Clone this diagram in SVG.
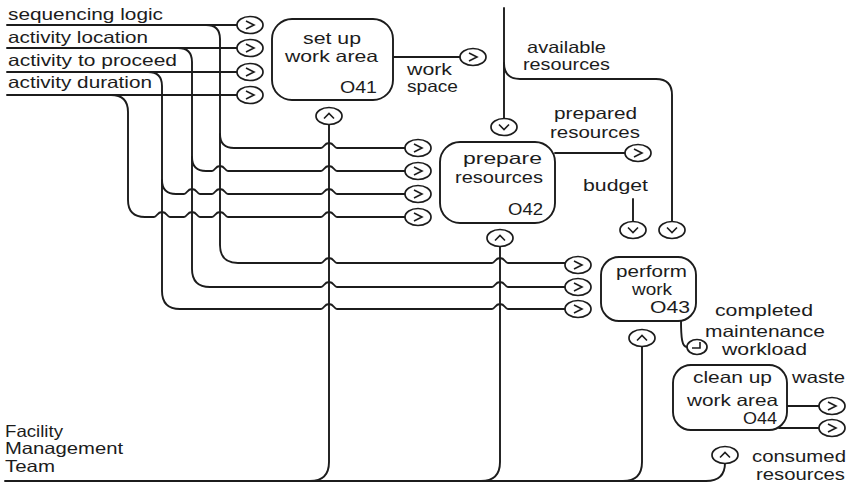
<svg xmlns="http://www.w3.org/2000/svg" xmlns:xlink="http://www.w3.org/1999/xlink" width="847" height="484" viewBox="0 0 847 484">
<style>
.ln{fill:none;stroke:#1c1c1c;stroke-width:1.9;stroke-linecap:round;stroke-linejoin:round}
.bx{fill:#fff;stroke:#1c1c1c;stroke-width:1.9}
.pt ellipse{fill:#fff;stroke:#1c1c1c;stroke-width:1.7}
.pt path{fill:none;stroke:#1c1c1c;stroke-width:1.6;stroke-linejoin:miter}
text{font-family:"Liberation Sans",Arial,sans-serif;font-size:16.5px;fill:#1c1c1c}
</style>
<defs>
<g id="pr" class="pt"><ellipse rx="13" ry="8.5"/><path d="M-4,-4 L4,0 L-4,4"/></g>
<g id="pu" class="pt"><ellipse rx="13" ry="8.5"/><path d="M-5,2.5 L0,-2.5 L5,2.5"/></g>
<g id="pd" class="pt"><ellipse rx="13" ry="8.5"/><path d="M-5,-2.5 L0,2.5 L5,-2.5"/></g>
<g id="pk" class="pt"><ellipse rx="10" ry="7.5"/><path d="M-5,1 H3 V-5"/></g>
</defs>
<rect width="847" height="484" fill="#fff"/>

<g id="connectors">
<!-- O41 inputs -->
<path class="ln" d="M7,25 H237 M7,48 H237 M7,72 H237 M7,95 H237"/>
<!-- sequencing logic branches -->
<path class="ln" d="M206,25 Q220,25 220,39 V245 Q220,263 238,263 H321 c3,0 3,-5 8,-5 c5,0 5,5 8,5 H492 c3,0 3,-5 8,-5 c5,0 5,5 8,5 H565"/>
<path class="ln" d="M220,134 Q220,148 234,148 H321 c3,0 3,-5 8,-5 c5,0 5,5 8,5 H405"/>
<!-- activity location branches -->
<path class="ln" d="M178,48 Q192,48 192,62 V269 Q192,287 210,287 H321 c3,0 3,-5 8,-5 c5,0 5,5 8,5 H492 c3,0 3,-5 8,-5 c5,0 5,5 8,5 H565"/>
<path class="ln" d="M192,157 Q192,171 206,171 H212 c3,0 3,-5 8,-5 c5,0 5,5 8,5 H321 c3,0 3,-5 8,-5 c5,0 5,5 8,5 H405"/>
<!-- activity to proceed branches -->
<path class="ln" d="M148,72 Q162,72 162,86 V291 Q162,309 180,309 H321 c3,0 3,-5 8,-5 c5,0 5,5 8,5 H492 c3,0 3,-5 8,-5 c5,0 5,5 8,5 H565"/>
<path class="ln" d="M162,180 Q162,194 176,194 H184 c3,0 3,-5 8,-5 c5,0 5,5 8,5 H212 c3,0 3,-5 8,-5 c5,0 5,5 8,5 H321 c3,0 3,-5 8,-5 c5,0 5,5 8,5 H405"/>
<!-- activity duration branch -->
<path class="ln" d="M111,95 Q128,95 128,112 V200 Q128,217 145,217 H154 c3,0 3,-5 8,-5 c5,0 5,5 8,5 H184 c3,0 3,-5 8,-5 c5,0 5,5 8,5 H212 c3,0 3,-5 8,-5 c5,0 5,5 8,5 H321 c3,0 3,-5 8,-5 c5,0 5,5 8,5 H405"/>
<!-- mechanism: Facility Management Team -->
<path class="ln" d="M5,481 H706 Q725,481 725,463"/>
<path class="ln" d="M310,481 Q329,481 329,462 V124"/>
<path class="ln" d="M481,481 Q500,481 500,462 V246"/>
<path class="ln" d="M623,481 Q642,481 642,462 V346"/>
<!-- available resources -->
<path class="ln" d="M504,8 V119"/>
<path class="ln" d="M504,63 Q504,79 520,79 H656 Q672,79 672,95 V222"/>
<!-- budget -->
<path class="ln" d="M633,199 V222"/>
<!-- outputs -->
<path class="ln" d="M393,57 H460"/>
<path class="ln" d="M555,153 H625"/>
<path class="ln" d="M681,320 C681,338 682,347 687,347"/>
<path class="ln" d="M787,406 H819 M779,428 H819"/>

<!-- ports -->
<use href="#pr" x="250" y="25"/>
<use href="#pr" x="250" y="48"/>
<use href="#pr" x="250" y="72"/>
<use href="#pr" x="250" y="95"/>
<use href="#pu" x="329" y="116"/>
<use href="#pr" x="473" y="57"/>
<use href="#pr" x="418" y="148"/>
<use href="#pr" x="418" y="171"/>
<use href="#pr" x="418" y="194"/>
<use href="#pr" x="418" y="217"/>
<use href="#pd" x="504" y="127"/>
<use href="#pu" x="500" y="238"/>
<use href="#pr" x="638" y="153"/>
<use href="#pd" x="633" y="230"/>
<use href="#pd" x="672" y="230"/>
<use href="#pr" x="578" y="265"/>
<use href="#pr" x="578" y="287"/>
<use href="#pr" x="578" y="309"/>
<use href="#pu" x="642" y="338"/>
<use href="#pk" x="697" y="347"/>
<use href="#pr" x="832" y="406"/>
<use href="#pr" x="832" y="428"/>
<use href="#pu" x="725" y="455"/>
</g>

<g id="labels">
<text x="8" y="20" textLength="155" lengthAdjust="spacingAndGlyphs">sequencing logic</text>
<text x="8" y="43" textLength="140" lengthAdjust="spacingAndGlyphs">activity location</text>
<text x="8" y="66" textLength="169" lengthAdjust="spacingAndGlyphs">activity to proceed</text>
<text x="8" y="88" textLength="144" lengthAdjust="spacingAndGlyphs">activity duration</text>
<text x="407" y="75" textLength="45" lengthAdjust="spacingAndGlyphs">work</text>
<text x="407" y="92" textLength="51" lengthAdjust="spacingAndGlyphs">space</text>
<text x="527" y="53" textLength="79" lengthAdjust="spacingAndGlyphs">available</text>
<text x="523" y="70" textLength="87" lengthAdjust="spacingAndGlyphs">resources</text>
<text x="554" y="119" textLength="83" lengthAdjust="spacingAndGlyphs">prepared</text>
<text x="550" y="138" textLength="90" lengthAdjust="spacingAndGlyphs">resources</text>
<text x="583" y="191" textLength="65" lengthAdjust="spacingAndGlyphs">budget</text>
<text x="715" y="316" textLength="98" lengthAdjust="spacingAndGlyphs">completed</text>
<text x="705" y="337" textLength="120" lengthAdjust="spacingAndGlyphs">maintenance</text>
<text x="722" y="355" textLength="85" lengthAdjust="spacingAndGlyphs">workload</text>
<text x="792" y="383" textLength="53" lengthAdjust="spacingAndGlyphs">waste</text>
<text x="752" y="462" textLength="94" lengthAdjust="spacingAndGlyphs">consumed</text>
<text x="756" y="480" textLength="89" lengthAdjust="spacingAndGlyphs">resources</text>
<text x="5" y="437" textLength="58" lengthAdjust="spacingAndGlyphs">Facility</text>
<text x="5" y="454" textLength="118" lengthAdjust="spacingAndGlyphs">Management</text>
<text x="5" y="472" textLength="50" lengthAdjust="spacingAndGlyphs">Team</text>
</g>

<g id="O41">
<rect class="bx" x="272" y="19" width="121" height="81" rx="20"/>
<text x="303" y="44" textLength="58" lengthAdjust="spacingAndGlyphs">set up</text>
<text x="285" y="62" textLength="93" lengthAdjust="spacingAndGlyphs">work area</text>
<text x="340" y="93" textLength="37" lengthAdjust="spacingAndGlyphs">O41</text>
</g>
<g id="O42">
<rect class="bx" x="440" y="142" width="115" height="81" rx="20"/>
<text x="463" y="164" textLength="79" lengthAdjust="spacingAndGlyphs">prepare</text>
<text x="455" y="183" textLength="88" lengthAdjust="spacingAndGlyphs">resources</text>
<text x="508" y="215" textLength="35" lengthAdjust="spacingAndGlyphs">O42</text>
</g>
<g id="O43">
<rect class="bx" x="601" y="257" width="95" height="64" rx="18"/>
<text x="616" y="277" textLength="71" lengthAdjust="spacingAndGlyphs">perform</text>
<text x="632" y="295" textLength="40" lengthAdjust="spacingAndGlyphs">work</text>
<text x="650" y="313" textLength="40" lengthAdjust="spacingAndGlyphs">O43</text>
</g>
<g id="O44">
<rect class="bx" x="673" y="365" width="114" height="65" rx="18"/>
<text x="693" y="383" textLength="79" lengthAdjust="spacingAndGlyphs">clean up</text>
<text x="687" y="406" textLength="91" lengthAdjust="spacingAndGlyphs">work area</text>
<text x="743" y="424" textLength="34" lengthAdjust="spacingAndGlyphs">O44</text>
</g>
</svg>
